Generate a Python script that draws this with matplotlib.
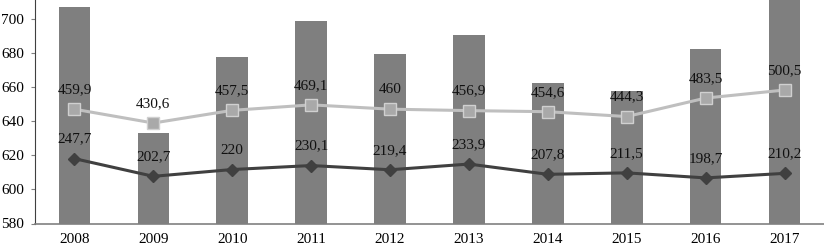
import numpy as np
import matplotlib.pyplot as plt

plt.rcParams['font.family'] = ['Liberation Serif', 'DejaVu Serif']

# Data
years = ['2008', '2009', '2010', '2011', '2012', '2013', '2014', '2015', '2016', '2017']
bars = [707.3, 633.0, 677.6, 699.1, 679.4, 690.7, 662.3, 658.0, 682.3, 713.0]
upper = [459.9, 430.6, 457.5, 469.1, 460.0, 456.9, 454.6, 444.3, 483.5, 500.5]
lower = [247.7, 202.7, 220.0, 230.1, 219.4, 233.9, 207.8, 211.5, 198.7, 210.2]


def fmt(v):
    s = ('%.1f' % v).rstrip('0').rstrip('.')
    return s.replace('.', ',')


x = np.arange(len(years))

fig = plt.figure(figsize=(8.24, 2.48), dpi=100)
ax = fig.add_axes([35 / 824, 24.5 / 248, 1 - 35 / 824, 1 - 24.5 / 248])

ax.bar(x, bars, width=0.4, color='#7f7f7f', zorder=1)
ax.set_ylim(580, 711.2)
ax.set_xlim(-0.5, len(years) - 0.5)
ax.set_yticks([580, 600, 620, 640, 660, 680, 700])
ax.set_xticks(x)
ax.set_xticklabels(years)
ax.tick_params(axis='y', length=3, width=0.8, color='#808080', labelsize=11, pad=5)
ax.tick_params(axis='x', length=0, labelsize=11, pad=7)
for s in ['top', 'right']:
    ax.spines[s].set_visible(False)
ax.spines['left'].set_color('#404040')
ax.spines['bottom'].set_color('#808080')
ax.spines['bottom'].set_linewidth(1.2)

# light line (own hidden scale)
ax2 = ax.twinx()
ax2.set_ylim(217.7, 691.3)
ax2.plot(x, upper, color='#bfbfbf', lw=2.2, marker='s', ms=8,
         markerfacecolor='#a9a9a9', markeredgecolor='#d0d0d0', mew=1, zorder=3)
for xi, v in zip(x, upper):
    ax2.annotate(fmt(v), (xi, v), xytext=(0, 14), textcoords='offset points',
                 ha='center', va='center', fontsize=11, color='#111111')

# dark line (own hidden scale)
ax3 = ax.twinx()
ax3.set_ylim(82.7, 651.2)
ax3.plot(x, lower, color='#404040', lw=2.2, marker='D', ms=6,
         markerfacecolor='#404040', markeredgecolor='#404040', zorder=3)
for xi, v in zip(x, lower):
    ax3.annotate(fmt(v), (xi, v), xytext=(0, 14), textcoords='offset points',
                 ha='center', va='center', fontsize=11, color='#111111')

for a in (ax2, ax3):
    a.set_xlim(-0.5, len(years) - 0.5)
    a.axis('off')

fig.savefig('out.png', dpi=100)
